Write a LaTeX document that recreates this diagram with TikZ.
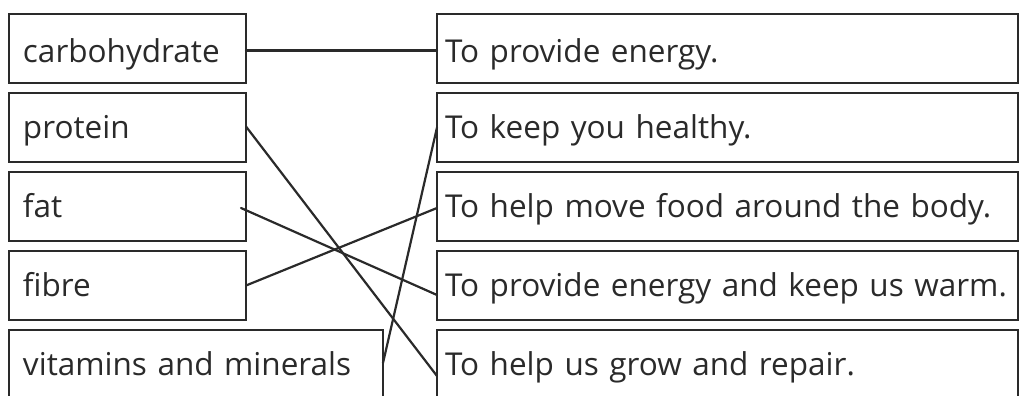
\documentclass[tikz,border=0pt]{standalone}
\usepackage{fontspec}
\setmainfont{Open Sans}
\definecolor{ink}{HTML}{2A2A2A}
\begin{document}
\begin{tikzpicture}[x=1pt,y=-1pt,
  box/.style={draw=ink, text=ink, line width=2.4pt, rectangle, outer sep=0pt,
    minimum height=69pt, inner ysep=0pt, align=left,
    font=\fontsize{31.5}{32}\selectfont, text height=25pt, text depth=3pt,
    anchor=north west},
  firstrow/.style={text height=28pt, text depth=0pt},
  lbox/.style={box, inner xsep=14pt, text width=209pt},
  rbox/.style={box, inner xsep=8pt, text width=565pt},
  link/.style={draw=ink, line width=2.2pt, line cap=round},
]
\clip (0,0) rectangle (1029,396);
% left column
\node[lbox, firstrow] (carb) at (9,14) {carbohydrate};
\node[lbox] (prot) at (9,93) {protein};
\node[lbox] (fat) at (9,172) {fat};
\node[lbox] (fibre) at (9,251) {fibre};
\node[lbox, text width=346pt] (vit) at (9,330) {vitamins and minerals};
% right column
\node[rbox, firstrow] (r1) at (437,14) {To provide energy.};
\node[rbox] (r2) at (437,93) {To keep you healthy.};
\node[rbox] (r3) at (437,172) {To help move food around the body.};
\node[rbox] (r4) at (437,251) {To provide energy and keep us warm.};
\node[rbox] (r5) at (437,330) {To help us grow and repair.};
% connectors
\draw[link] ([yshift=-2pt]carb.east) -- ([yshift=-2pt]r1.west);
\draw[link] ([yshift=1pt]prot.east) -- ([yshift=-11.5pt]r5.west);
\draw[link] ([xshift=-5pt,yshift=-1.5pt]fat.east) -- ([yshift=-9.5pt]r4.west);
\draw[link] (fibre.east) -- ([yshift=-1.5pt]r3.west);
\draw[link] ([yshift=1.5pt]vit.east) -- (r2.west);
\end{tikzpicture}
\end{document}
